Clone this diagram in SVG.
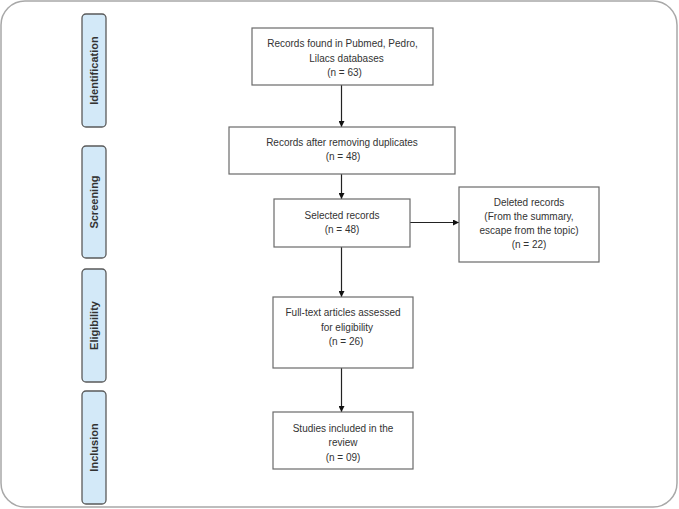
<svg xmlns="http://www.w3.org/2000/svg" width="679" height="509" viewBox="0 0 679 509">
<defs>
<marker id="ah" viewBox="0 0 10 10" refX="10" refY="5" markerWidth="6" markerHeight="6" markerUnits="userSpaceOnUse" orient="auto">
<path d="M0,0 L10,5 L0,10 z" fill="#111"/>
</marker>
</defs>
<style>
.frame{fill:#fff;stroke:#a8a8a8;stroke-width:1.5}
.phase{fill:#d3e9f8;stroke:#5a5a5a;stroke-width:1.3}
.ptxt{font-family:"Liberation Sans",Arial,sans-serif;font-size:11px;font-weight:bold;fill:#333;text-anchor:middle}
.box{fill:#fff;stroke:#6a6a6a;stroke-width:1.2}
.t{font-family:"Liberation Sans",Arial,sans-serif;font-size:10px;fill:#333;text-anchor:middle}
.c{stroke:#222;stroke-width:1.2;fill:none;marker-end:url(#ah)}
</style>
<rect class="frame" x="1" y="1" width="676" height="506" rx="24"/>
<g id="phase-identification"><rect class="phase" x="82" y="14" width="24" height="113" rx="4"/><text class="ptxt" transform="translate(98,70.5) rotate(-90)">Identification</text></g>
<g id="phase-screening"><rect class="phase" x="82" y="146" width="24" height="112" rx="4"/><text class="ptxt" transform="translate(98,202) rotate(-90)">Screening</text></g>
<g id="phase-eligibility"><rect class="phase" x="82" y="269" width="24" height="113" rx="4"/><text class="ptxt" transform="translate(98,325.5) rotate(-90)">Eligibility</text></g>
<g id="phase-inclusion"><rect class="phase" x="82" y="391" width="24" height="113" rx="4"/><text class="ptxt" transform="translate(98,447.5) rotate(-90)">Inclusion</text></g>
<g id="connectors">
<line class="c" x1="341.5" y1="85" x2="341.5" y2="127"/>
<line class="c" x1="341.5" y1="174" x2="341.5" y2="199"/>
<line class="c" x1="341.5" y1="247" x2="341.5" y2="297"/>
<line class="c" x1="341.5" y1="368" x2="341.5" y2="412"/>
<line class="c" x1="410" y1="222.5" x2="459" y2="222.5"/>
</g>
<g id="n1"><rect class="box" x="252" y="28" width="181" height="57"/><text class="t" x="342.5" y="47">Records found in Pubmed, Pedro,</text><text class="t" x="346.5" y="62">Lilacs databases</text><text class="t" x="344.5" y="76">(n = 63)</text></g>
<g id="n2"><rect class="box" x="229" y="127" width="226" height="47"/><text class="t" x="342" y="146">Records after removing duplicates</text><text class="t" x="343" y="160">(n = 48)</text></g>
<g id="n3"><rect class="box" x="274" y="199" width="136" height="48"/><text class="t" x="342" y="219">Selected records</text><text class="t" x="342" y="233">(n = 48)</text></g>
<g id="n4"><rect class="box" x="459" y="187" width="140" height="75"/><text class="t" x="529" y="206">Deleted records</text><text class="t" x="529" y="220">(From the summary,</text><text class="t" x="529" y="234">escape from the topic)</text><text class="t" x="529" y="248">(n = 22)</text></g>
<g id="n5"><rect class="box" x="273" y="297" width="140" height="71"/><text class="t" x="343" y="316">Full-text articles assessed</text><text class="t" x="347" y="331">for eligibility</text><text class="t" x="346" y="345">(n = 26)</text></g>
<g id="n6"><rect class="box" x="273" y="412" width="140" height="57"/><text class="t" x="343" y="432">Studies included in the</text><text class="t" x="343" y="446">review</text><text class="t" x="343" y="461">(n = 09)</text></g>
</svg>
